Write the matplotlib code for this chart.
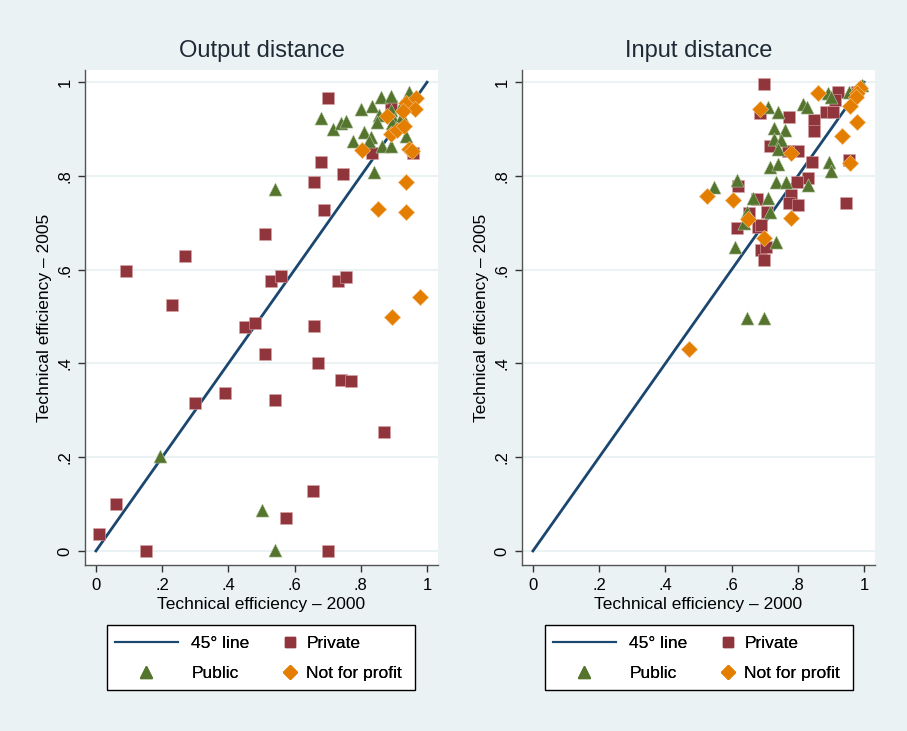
import matplotlib
matplotlib.use("Agg")
import matplotlib.pyplot as plt
import matplotlib.patches as mpatches
from matplotlib.lines import Line2D

plt.rcParams['font.family'] = ['Liberation Sans', 'DejaVu Sans']

# Output distance panel (x = 2000, y = 2005)
out_private_x = [0.01, 0.06, 0.09, 0.15, 0.27, 0.23, 0.30, 0.39, 0.45, 0.48, 0.51, 0.51, 0.53, 0.56,
                 0.54, 0.66, 0.67, 0.66, 0.68, 0.69, 0.70, 0.745, 0.73, 0.755, 0.74, 0.77, 0.655,
                 0.575, 0.70, 0.87, 0.835, 0.958, 0.89]
out_private_y = [0.036, 0.100, 0.597, 0.000, 0.629, 0.525, 0.316, 0.337, 0.478, 0.486, 0.676, 0.420,
                 0.576, 0.586, 0.322, 0.480, 0.402, 0.787, 0.829, 0.727, 0.966, 0.804, 0.575, 0.585,
                 0.365, 0.362, 0.128, 0.070, 0.000, 0.253, 0.849, 0.848, 0.950]
out_public_x = [0.193, 0.50, 0.54, 0.54, 0.68, 0.715, 0.74, 0.755, 0.80, 0.835, 0.862, 0.89, 0.945,
                0.854, 0.85, 0.89, 0.90, 0.925, 0.81, 0.83, 0.777, 0.826, 0.864, 0.89, 0.937, 0.84,
                0.895, 0.92]
out_public_y = [0.203, 0.087, 0.002, 0.772, 0.923, 0.900, 0.913, 0.918, 0.942, 0.950, 0.968, 0.970,
                0.980, 0.930, 0.915, 0.940, 0.920, 0.927, 0.893, 0.883, 0.874, 0.874, 0.864, 0.864,
                0.885, 0.808, 0.912, 0.950]
out_nfp_x = [0.804, 0.88, 0.937, 0.967, 0.964, 0.928, 0.89, 0.91, 0.93, 0.946, 0.955, 0.937, 0.852,
             0.937, 0.979, 0.895]
out_nfp_y = [0.855, 0.928, 0.955, 0.966, 0.942, 0.938, 0.890, 0.898, 0.906, 0.857, 0.853, 0.787,
             0.729, 0.723, 0.542, 0.499]

# Input distance panel
in_private_x = [0.697, 0.685, 0.715, 0.92, 0.912, 0.885, 0.906, 0.773, 0.85, 0.85, 0.80, 0.77, 0.842,
                0.955, 0.83, 0.797, 0.779, 0.773, 0.80, 0.945, 0.618, 0.676, 0.706, 0.652, 0.615,
                0.679, 0.688, 0.688, 0.703, 0.697, 0.98]
in_private_y = [0.996, 0.935, 0.863, 0.979, 0.962, 0.936, 0.936, 0.925, 0.919, 0.896, 0.853, 0.853,
                0.829, 0.834, 0.795, 0.787, 0.759, 0.742, 0.738, 0.742, 0.778, 0.751, 0.723, 0.721,
                0.689, 0.691, 0.695, 0.642, 0.648, 0.620, 0.980]
in_public_x = [0.709, 0.74, 0.727, 0.761, 0.727, 0.748, 0.74, 0.715, 0.74, 0.733, 0.764, 0.83, 0.548,
               0.615, 0.664, 0.709, 0.645, 0.715, 0.636, 0.61, 0.733, 0.645, 0.697, 0.89, 0.90,
               0.955, 0.995, 0.815, 0.827, 0.894, 0.90]
in_public_y = [0.947, 0.936, 0.902, 0.898, 0.878, 0.876, 0.857, 0.819, 0.825, 0.787, 0.787, 0.780,
               0.776, 0.791, 0.753, 0.753, 0.723, 0.723, 0.700, 0.648, 0.659, 0.497, 0.497, 0.977,
               0.968, 0.980, 0.994, 0.953, 0.947, 0.829, 0.810]
in_nfp_x = [0.685, 0.86, 0.988, 0.98, 0.975, 0.958, 0.98, 0.933, 0.779, 0.958, 0.527, 0.603, 0.648,
            0.78, 0.697, 0.47]
in_nfp_y = [0.942, 0.977, 0.987, 0.977, 0.968, 0.949, 0.915, 0.885, 0.850, 0.827, 0.757, 0.748,
            0.709, 0.710, 0.667, 0.430]

ticks = [0, 0.2, 0.4, 0.6, 0.8, 1]
tick_labels = ['0', '.2', '.4', '.6', '.8', '1']

navy = '#1a476f'
maroon = '#90353b'
green = '#55752f'
orange = '#e37e00'
bg = '#eaf2f3'

fig = plt.figure(figsize=(9.07, 7.31), dpi=100, facecolor=bg)


def panel(rect, title, px, py, gx, gy, nx, ny):
    ax = fig.add_axes(rect)
    ax.set_facecolor('white')
    ax.plot([0, 1], [0, 1], color=navy, lw=2, zorder=2)
    ax.scatter(px, py, marker='s', s=70, color=maroon, edgecolors='#d9a5a8', linewidths=0.4, zorder=3)
    ax.scatter(gx, gy, marker='^', s=90, color=green, edgecolors='#b9c8a6', linewidths=0.4, zorder=4)
    ax.scatter(nx, ny, marker='D', s=70, color=orange, edgecolors='#f4c48a', linewidths=0.4, zorder=5)
    ax.set_xlim(-0.033, 1.033)
    ax.set_ylim(-0.03, 1.026)
    ax.set_xticks(ticks)
    ax.set_xticklabels(tick_labels)
    ax.set_yticks(ticks)
    ax.set_yticklabels(tick_labels, rotation=90, va='center')
    ax.tick_params(labelsize=12, length=5, width=1, color='#333333', pad=4)
    ax.yaxis.grid(True, color=bg, lw=1.5)
    ax.set_axisbelow(True)
    for s in ['top', 'right']:
        ax.spines[s].set_visible(False)
    for s in ['left', 'bottom']:
        ax.spines[s].set_color('#555555')
        ax.spines[s].set_linewidth(1)
    ax.set_title(title, fontsize=17, color='#1e2a36', pad=9)
    ax.set_xlabel('Technical efficiency – 2000', fontsize=12.5, labelpad=3)
    ax.set_ylabel('Technical efficiency – 2005', fontsize=12.5, labelpad=4)
    return ax


def legend_box(x0):
    # x0 = left edge of box in pixels
    W, H = 907, 731
    box = mpatches.Rectangle((x0 / W, 1 - 690 / H), 308 / W, 65 / H, transform=fig.transFigure,
                             facecolor='white', edgecolor='black', lw=1, zorder=0)
    fig.add_artist(box)
    line_h = Line2D([], [], color=navy, lw=1.5)
    tri_h = Line2D([], [], marker='^', color=green, ls='none', markersize=8)
    sq_h = Line2D([], [], marker='s', color=maroon, ls='none', markersize=7)
    dia_h = Line2D([], [], marker='D', color=orange, ls='none', markersize=7)
    leg1 = fig.legend([line_h, tri_h], ['45° line', 'Public'], loc='upper left',
                      bbox_to_anchor=((x0 + 8) / W, 1 - 636 / H), frameon=False, fontsize=12.5,
                      handlelength=3.6, handletextpad=0.8, labelspacing=0.85, borderpad=0,
                      borderaxespad=0)
    leg2 = fig.legend([sq_h, dia_h], ['Private', 'Not for profit'], loc='upper left',
                      bbox_to_anchor=((x0 + 175) / W, 1 - 636 / H), frameon=False, fontsize=12.5,
                      handlelength=0.9, handletextpad=0.5, labelspacing=0.85, borderpad=0,
                      borderaxespad=0)
    fig.add_artist(leg1)
    fig.add_artist(leg2)


panel([85 / 907, 1 - 565 / 731, 353 / 907, 495 / 731], 'Output distance',
      out_private_x, out_private_y, out_public_x, out_public_y, out_nfp_x, out_nfp_y)
panel([522 / 907, 1 - 565 / 731, 353 / 907, 495 / 731], 'Input distance',
      in_private_x, in_private_y, in_public_x, in_public_y, in_nfp_x, in_nfp_y)

legend_box(107)
legend_box(545)

fig.savefig('out.png', dpi=100, facecolor=bg)
